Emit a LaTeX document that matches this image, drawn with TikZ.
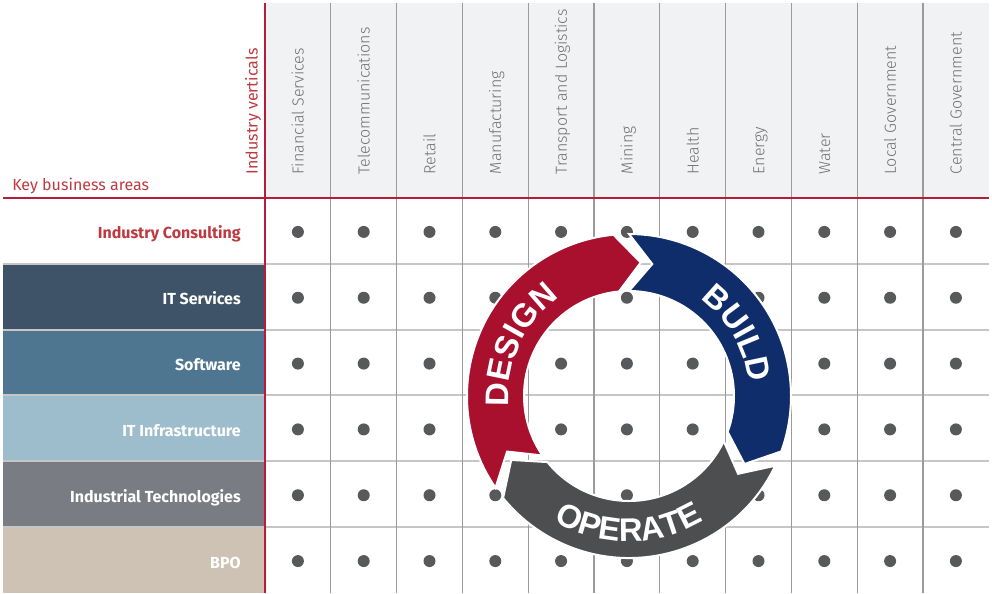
\documentclass[tikz,border=0pt]{standalone}
\usepackage{fontspec}
\setmainfont{Liberation Sans}
\newfontfamily\lblfont{Fira Sans}
\newfontfamily\lightfont{Fira Sans Light}
\newfontfamily\ringfam{Liberation Sans}
\usetikzlibrary{decorations.text}
\definecolor{hdrbg}{HTML}{F1F2F4}
\definecolor{redline}{HTML}{B71C3B}
\definecolor{redtext}{HTML}{BF3A40}
\definecolor{itserv}{HTML}{3E5367}
\definecolor{softw}{HTML}{4F7690}
\definecolor{itinfra}{HTML}{9DBCCC}
\definecolor{indtech}{HTML}{797D83}
\definecolor{bpo}{HTML}{CDC2B4}
\definecolor{vline}{HTML}{9B9B9B}
\definecolor{hline}{HTML}{C6C6C6}
\definecolor{dotc}{HTML}{58595B}
\definecolor{hdrtext}{HTML}{707174}
\definecolor{designc}{HTML}{A8102E}
\definecolor{buildc}{HTML}{0F2D6B}
\definecolor{operc}{HTML}{4D4E50}
\newcommand{\ringfont}{\ringfam\bfseries\fontsize{24.5}{24.5}\selectfont\color{white}}
\newcommand{\ringarrow}[3]{%
  \fill[#1, draw=white, line width=1.5pt]
    (#2:162) arc[start angle=#2, end angle=#3, radius=162]
    -- ({#3-10.5}:134) -- (#3:105)
    arc[start angle=#3, end angle=#2, radius=105]
    -- ({#2-10}:134) -- cycle;}
\tikzset{
  hdr/.style={anchor=base west, rotate=90, inner sep=0pt, text=hdrtext,
    font=\lightfont\fontsize{12}{14}\selectfont},
  rowlbl/.style={anchor=base east, inner sep=0pt, text=white,
    font=\lblfont\bfseries\fontsize{12}{14}\selectfont},
  redlbl/.style={inner sep=0pt, text=redtext,
    font=\lblfont\fontsize{12}{14}\selectfont},
  gridv/.style={vline, line width=1pt},
  gridh/.style={hline, line width=1.5pt},
  redrule/.style={redline, line width=1.5pt},
  dot/.style={dotc},
}
\begin{document}
\begin{tikzpicture}[x=0.75pt,y=0.75pt]
\useasboundingbox (0,0) rectangle (992,-593);
\fill[white] (0,0) rectangle (992,-593);
% header background
\fill[hdrbg] (265,-3) rectangle (989,-198);
% left coloured boxes
\foreach \c [count=\j] in {itserv,softw,itinfra,indtech,bpo} {
  \fill[\c] (3,{-(198+65.83*\j)}) rectangle (265,{-(198+65.83*(\j+1))});
}
% horizontal grid lines
\foreach \j in {1,...,5}
  \draw[gridh] (3,{-(198+65.83*\j)}) -- (989,{-(198+65.83*\j)});
% vertical grid lines
\foreach \k in {1,...,10}
  \draw[gridv] ({265+65.8*\k},-3) -- ({265+65.8*\k},-593);
% dots
\foreach \k in {0,...,10}
  \foreach \j in {0,...,5}
    \fill[dot] ({265+65.8*(\k+0.5)},{-(198+65.83*(\j+0.5)+1)}) circle[radius=6];
% red rules
\draw[redrule] (3,-198) -- (989,-198);
\draw[redrule] (265,-3) -- (265,-593);
% column headers
\foreach \t [count=\k from 0] in {Financial Services,Telecommunications,Retail,Manufacturing,Transport and Logistics,Mining,Health,Energy,Water,Local Government,Central Government}
  \node[hdr] (col\k) at ({265+65.8*(\k+0.5)+5.8},-174.5) {\t};
\node[redlbl, anchor=base west] (kba) at (12,-190) {Key business areas};
\node[redlbl, anchor=base west, rotate=90] (iv) at (257.5,-174.5) {Industry verticals};
% row labels
\node[rowlbl, text=redtext] (r0) at (241,{-(198+65.83*0.5+8)}) {Industry Consulting};
\foreach \t [count=\j] in {IT Services,Software,IT Infrastructure,Industrial Technologies,BPO}
  \node[rowlbl] (r\j) at (241,{-(198+65.83*(\j+0.5)+8)}) {\t};
% cycle ring
\begin{scope}[shift={(629,-396)}]
  \ringarrow{designc}{214.5}{95.5}
  \ringarrow{buildc}{90}{-20}
  \ringarrow{operc}{-25.5}{-141}
  \path[decorate, decoration={text along path, text={|\ringfont|DESIGN}, text align=center}]
    (190:120.5) arc[start angle=190, end angle=120, radius=120.5];
  \path[decorate, decoration={text along path, text={|\ringfont|BUILD}, text align=center}]
    (65:120.5) arc[start angle=65, end angle=-5, radius=120.5];
  \path[decorate, decoration={text along path, text={|\ringfont|OPERATE}, text align=center}]
    (230:145.5) arc[start angle=230, end angle=310, radius=145.5];
\end{scope}
\end{tikzpicture}
\end{document}
